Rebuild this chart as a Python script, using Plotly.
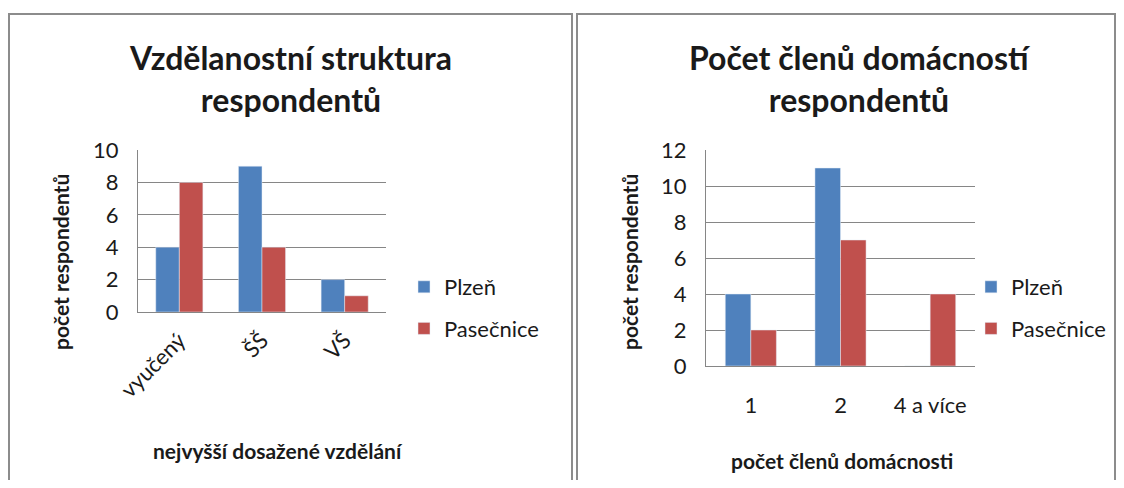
import plotly.graph_objects as go

# The page body has an 8px margin on every side, so the figure is drawn 8px in from the window edge.
OFF = 8
W, H = 1124 - 2 * OFF, 488 - 2 * OFF

# Data
edu_categories = ["vyučený", "ŠŠ", "VŠ"]
edu_plzen = [4, 9, 2]
edu_pasecnice = [8, 4, 1]

hh_categories = ["1", "2", "4 a více"]
hh_plzen = [4, 11, 0]
hh_pasecnice = [2, 7, 4]

series_names = ["Plzeň", "Pasečnice"]
colors = ["#4F81BD", "#C0504D"]

FONT = "Lato, 'Open Sans', sans-serif"
TXT = "#1a1a1a"


def px_x(x):
    return (x - OFF) / W


def px_y(y):
    return 1 - (y - OFF) / H


fig = go.Figure()

# Left chart
fig.add_trace(go.Bar(x=edu_categories, y=edu_plzen, name=series_names[0], marker_color=colors[0],
                     xaxis="x", yaxis="y", legend="legend", legendgroup="a"))
fig.add_trace(go.Bar(x=edu_categories, y=edu_pasecnice, name=series_names[1], marker_color=colors[1],
                     xaxis="x", yaxis="y", legend="legend", legendgroup="b"))
# Right chart
fig.add_trace(go.Bar(x=hh_categories, y=hh_plzen, name=series_names[0], marker_color=colors[0],
                     xaxis="x2", yaxis="y2", legend="legend2", legendgroup="c"))
fig.add_trace(go.Bar(x=hh_categories, y=hh_pasecnice, name=series_names[1], marker_color=colors[1],
                     xaxis="x2", yaxis="y2", legend="legend2", legendgroup="d"))

axis_common = dict(showline=True, linecolor="#868686", linewidth=1,
                   tickfont=dict(family=FONT, size=22, color=TXT), ticks="", zeroline=False,
                   automargin=False)

legend_common = dict(xanchor="left", yanchor="top",
                     font=dict(family=FONT, size=22, color=TXT), tracegroupgap=10,
                     bgcolor="rgba(0,0,0,0)", itemwidth=30, borderwidth=0)

fig.update_layout(
    width=W, height=H,
    margin=dict(l=0, r=0, t=0, b=0, autoexpand=False),
    paper_bgcolor="white", plot_bgcolor="white",
    barmode="group", bargap=0.43, bargroupgap=0,
    font=dict(family=FONT, color=TXT),
    xaxis=dict(domain=[px_x(138), px_x(386)], anchor="y", tickangle=-45,
               ticklabelstandoff=6, **axis_common),
    yaxis=dict(domain=[px_y(312), px_y(150)], anchor="x", range=[0, 10], dtick=2,
               showgrid=True, gridcolor="#868686", gridwidth=1, ticklabelstandoff=14, **axis_common),
    xaxis2=dict(domain=[px_x(706), px_x(975)], anchor="y2", tickangle=0,
                ticklabelstandoff=20, **axis_common),
    yaxis2=dict(domain=[px_y(366), px_y(150)], anchor="x2", range=[0, 12], dtick=2,
                showgrid=True, gridcolor="#868686", gridwidth=1, ticklabelstandoff=14, **axis_common),
    legend=dict(x=px_x(404), y=px_y(266), **legend_common),
    legend2=dict(x=px_x(971), y=px_y(266), **legend_common),
    showlegend=True,
)

# Panel borders
for x0, x1 in [(9, 572), (577, 1115)]:
    fig.add_shape(type="rect", xref="paper", yref="paper",
                  x0=px_x(x0), x1=px_x(x1), y0=px_y(500), y1=px_y(14),
                  line=dict(color="#8c8c8c", width=2), fillcolor="rgba(0,0,0,0)", layer="below")

# Titles & axis titles
ann = [
    ("Vzdělanostní struktura<br>respondentů", 290, 79, 32, 0),
    ("Počet členů domácností<br>respondentů", 860, 79, 32, 0),
    ("nejvyšší dosažené vzdělání", 278, 450, 21, 0),
    ("počet členů domácnosti", 842, 460, 21, 0),
    ("počet respondentů", 60, 262, 21, -90),
    ("počet respondentů", 629, 262, 21, -90),
]
for text, x, y, size, ang in ann:
    fig.add_annotation(text=f"<b>{text}</b>", xref="paper", yref="paper",
                       x=px_x(x), y=px_y(y), xanchor="center", yanchor="middle",
                       showarrow=False, textangle=ang,
                       font=dict(family=FONT, size=size, color=TXT))

fig.write_html("out.html")
